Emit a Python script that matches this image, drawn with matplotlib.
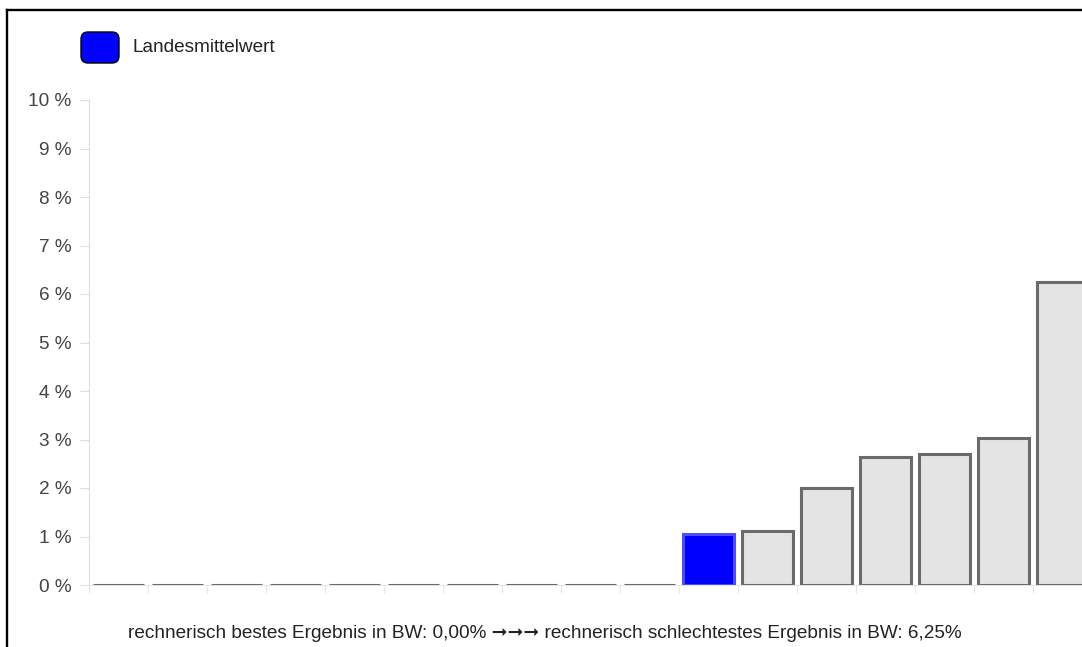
import matplotlib.pyplot as plt
import numpy as np
from matplotlib.patches import FancyBboxPatch
from matplotlib.lines import Line2D

plt.rcParams['font.family'] = ['Liberation Sans', 'DejaVu Sans']

# Werte je Schule (in %), sortiert
werte = [0, 0, 0, 0, 0, 0, 0, 0, 0, 0, 1.05, 1.12, 2.0, 2.63, 2.70, 3.03, 6.25]
landesmittel_index = 10
yticks = list(range(0, 11))
ytick_labels = [f'{v} %' for v in yticks]
legend_label = 'Landesmittelwert'
footer = 'rechnerisch bestes Ergebnis in BW: 0,00% \u279e\u279e\u279e rechnerisch schlechtestes Ergebnis in BW: 6,25%'

W, H = 1082, 647
FS = 13.7
fig = plt.figure(figsize=(W / 100, H / 100), dpi=100)
ax = fig.add_axes([89 / W, 62 / H, 1003 / W, 485 / H])

x = np.arange(len(werte))
colors = ['#e4e4e4'] * len(werte)
edges = ['#6a6a6a'] * len(werte)
colors[landesmittel_index] = '#0000ff'
edges[landesmittel_index] = '#4d4dff'
ax.bar(x, werte, width=0.88, color=colors, edgecolor=edges, linewidth=2.2, zorder=3)

ax.set_xlim(-0.5, len(werte) - 0.5)
ax.set_ylim(0, 10)
ax.set_yticks(yticks)
ax.set_yticklabels(ytick_labels, fontsize=FS, color='#444444')
ax.set_xticks(np.arange(len(werte) + 1) - 0.5)
ax.set_xticklabels([])
ax.tick_params(axis='y', length=6.5, color='#dddddd', pad=6)
ax.tick_params(axis='x', length=6, color='#e6e6e6', direction='out')
for s in ['top', 'right']:
    ax.spines[s].set_visible(False)
ax.spines['left'].set_color('#dddddd')
ax.spines['bottom'].set_color('#e6e6e6')
ax.spines['left'].set_bounds(0, 10)

# Legende
fig.add_artist(FancyBboxPatch((0.81, (H - 63) / 100), 0.38, 0.31,
                              boxstyle='round,pad=0,rounding_size=0.07',
                              transform=fig.dpi_scale_trans,
                              facecolor='#0000ff', edgecolor='black', linewidth=1))
fig.text(132 / W, 1 - 47 / H, legend_label, fontsize=FS, va='center', ha='left', color='#222222')

# Rahmen
fig.add_artist(Line2D([7 / W, 1], [1 - 10 / H, 1 - 10 / H], color='black', linewidth=1.7, transform=fig.transFigure))
fig.add_artist(Line2D([7 / W, 7 / W], [0, 1 - 10 / H], color='black', linewidth=1.7, transform=fig.transFigure))

fig.text(545 / W, 1 - 633 / H, footer, fontsize=FS, ha='center', va='center', color='#222222')

fig.savefig('out.png', dpi=100)
